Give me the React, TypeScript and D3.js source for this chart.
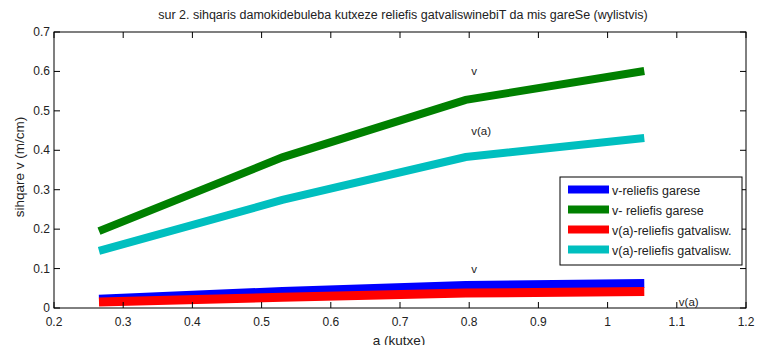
import React from "react";
import * as d3 from "d3";

const angles = [0.265, 0.53, 0.795, 1.053];
const vNoRelief = [0.022, 0.042, 0.057, 0.062];
const vNoReliefGreen = [0.195, 0.382, 0.528, 0.601];
const vaRelief = [0.015, 0.027, 0.038, 0.042];
const vaReliefCyan = [0.145, 0.274, 0.383, 0.431];

const xTicks = [0.2, 0.3, 0.4, 0.5, 0.6, 0.7, 0.8, 0.9, 1, 1.1, 1.2];
const yTicks = [0, 0.1, 0.2, 0.3, 0.4, 0.5, 0.6, 0.7];

const seriesNames = [
  "v-reliefis garese",
  "v- reliefis garese",
  "v(a)-reliefis gatvalisw.",
  "v(a)-reliefis gatvalisw.",
];
const seriesColors = ["#0000ff", "#008000", "#ff0000", "#00bfbf"];

const annotations = [
  { x: 0.8, y: 0.6, t: "v" },
  { x: 0.8, y: 0.45, t: "v(a)" },
  { x: 0.8, y: 0.1, t: "v" },
  { x: 1.1, y: 0.015, t: "v(a)" },
];

const title =
  "sur 2. sihqaris damokidebuleba kutxeze reliefis gatvaliswinebiT da mis gareSe (wylistvis)";

export default function App() {
  const W = 761, H = 345;
  const L = 54, R = 746, T = 32, B = 308;
  const x = d3.scaleLinear().domain([0.2, 1.2]).range([L, R]);
  const y = d3.scaleLinear().domain([0, 0.7]).range([B, T]);
  const line = d3
    .line<[number, number]>()
    .x((d) => x(d[0]))
    .y((d) => y(d[1]));
  const data = [vNoRelief, vNoReliefGreen, vaRelief, vaReliefCyan];
  const font = "Liberation Sans, Arial, sans-serif";
  const legX = 560, legY = 177, legW = 182, legH = 88;
  return (
    <svg
      width={W}
      height={H}
      style={{ position: "absolute", left: 0, top: 0, background: "#fff" }}
      fontFamily={font}
    >
      <rect x={0} y={0} width={W} height={H} fill="#fff" />
      <text x={403} y={19} textAnchor="middle" fontSize={12.5} fill="#222">
        {title}
      </text>
      {data.map((vals, i) => (
        <path
          key={i}
          d={line(angles.map((a, j) => [a, vals[j]] as [number, number])) || ""}
          fill="none"
          stroke={seriesColors[i]}
          strokeWidth={i === 0 || i === 2 ? 9 : 8}
          strokeLinejoin="miter"
        />
      ))}
      <rect x={L} y={T} width={R - L} height={B - T} fill="none" stroke="#000" strokeWidth={1} />
      {xTicks.map((t) => (
        <g key={"x" + t}>
          <line x1={x(t)} x2={x(t)} y1={B} y2={B - 6} stroke="#000" />
          <line x1={x(t)} x2={x(t)} y1={T} y2={T + 6} stroke="#000" />
          <text x={x(t)} y={B + 18} textAnchor="middle" fontSize={12} fill="#222">
            {String(t)}
          </text>
        </g>
      ))}
      {yTicks.map((t) => (
        <g key={"y" + t}>
          <line x1={L} x2={L + 6} y1={y(t)} y2={y(t)} stroke="#000" />
          <line x1={R} x2={R - 6} y1={y(t)} y2={y(t)} stroke="#000" />
          <text x={L - 4} y={y(t) + 4} textAnchor="end" fontSize={12} fill="#222">
            {String(t)}
          </text>
        </g>
      ))}
      {annotations.map((a, i) => (
        <text key={"a" + i} x={x(a.x) + 2} y={y(a.y) + 4} fontSize={11.5} fill="#222">
          {a.t}
        </text>
      ))}
      <text
        transform={`translate(24,167) rotate(-90)`}
        textAnchor="middle"
        fontSize={13.5}
        fill="#222"
      >
        sihqare v (m/cm)
      </text>
      <text x={399} y={345} textAnchor="middle" fontSize={13.5} fill="#222">
        a (kutxe)
      </text>
      <rect x={legX} y={legY} width={legW} height={legH} fill="#fff" stroke="#000" />
      {seriesNames.map((n, i) => (
        <g key={"l" + i}>
          <rect x={568} y={legY + 8.5 + i * 20} width={41} height={8} fill={seriesColors[i]} />
          <text x={612} y={legY + 18 + i * 20} fontSize={12.5} fill="#222">
            {n}
          </text>
        </g>
      ))}
    </svg>
  );
}
